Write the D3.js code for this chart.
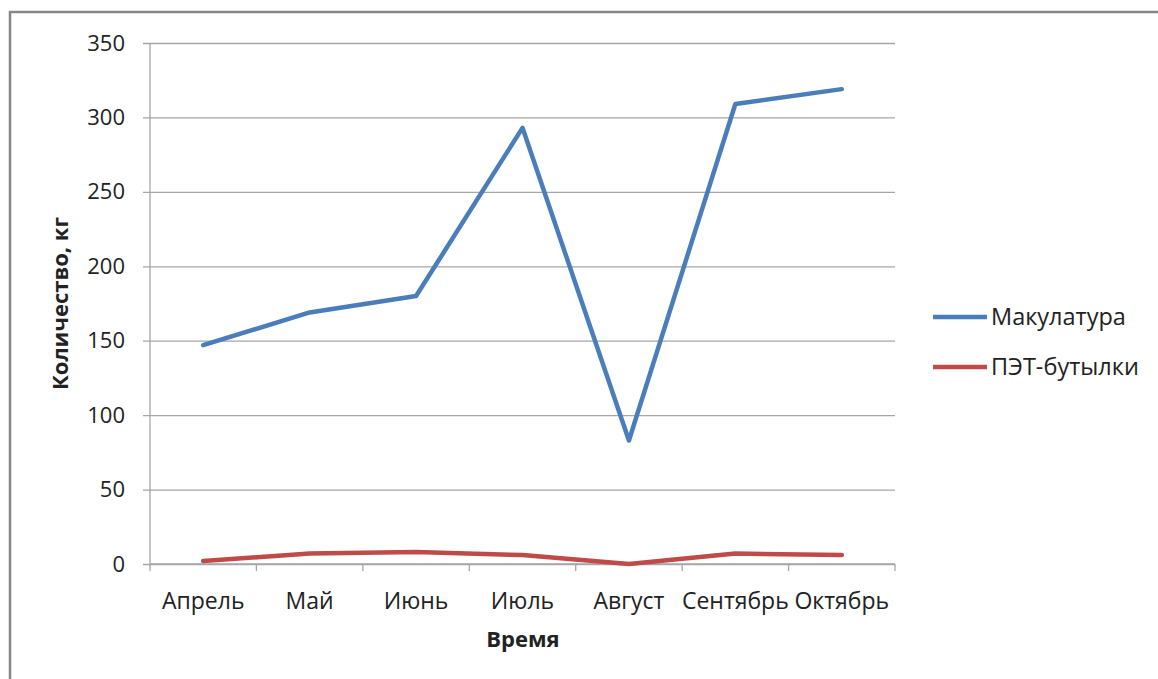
<!DOCTYPE html>
<html>
<head>
<meta charset="utf-8">
<script src="https://cdn.jsdelivr.net/npm/d3@7"></script>
<style>
  html, body { margin: 0; padding: 0; background: #fff; }
  svg { display: block; }
  text { font-family: "Open Sans", "Liberation Sans", sans-serif; fill: #222; }
</style>
</head>
<body>
<svg id="chart" width="1158" height="679"></svg>
<script>
// Monthly collection of recyclables, kg
const months = ["Апрель", "Май", "Июнь", "Июль", "Август", "Сентябрь", "Октябрь"];
const paper = [147, 169, 180, 293, 83, 309, 319];
const bottles = [2, 7, 8, 6, 0, 7, 6];
const yTicks = [0, 50, 100, 150, 200, 250, 300, 350];
const seriesNames = ["Макулатура", "ПЭТ-бутылки"];
const seriesColors = ["#4a7ebb", "#be4b48"];

const svg = d3.select("#chart");

// outer frame of the chart
svg.append("rect")
  .attr("x", 10).attr("y", 12)
  .attr("width", 1200).attr("height", 700)
  .attr("fill", "none")
  .attr("stroke", "#878787")
  .attr("stroke-width", 2.5);

const plotL = 150, plotR = 895, plotT = 43, plotB = 564;

const x = d3.scaleBand().domain(months).range([plotL, plotR]);
const y = d3.scaleLinear().domain([0, 350]).range([plotB, plotT]);

// horizontal gridlines with outside ticks
const yAxis = svg.append("g")
  .attr("transform", `translate(${plotL},0)`)
  .call(d3.axisLeft(y).tickValues(yTicks).tickSize(-(plotR - plotL)).tickSizeOuter(0).tickPadding(25));
yAxis.select(".domain").remove();
yAxis.selectAll(".tick line")
  .attr("x1", -7)
  .attr("stroke", "#a6a6a6").attr("stroke-width", 1.3);
yAxis.selectAll(".tick text")
  .style("font-size", "22px").attr("fill", "#222")
  .attr("font-family", "'Open Sans', sans-serif");

// vertical axis line
svg.append("line")
  .attr("x1", plotL).attr("x2", plotL)
  .attr("y1", plotT).attr("y2", plotB)
  .attr("stroke", "#a6a6a6").attr("stroke-width", 1.3);

// category axis: ticks at band boundaries
const xAxis = svg.append("g").attr("transform", `translate(0,${plotB})`);
xAxis.append("line")
  .attr("x1", plotL).attr("x2", plotR)
  .attr("stroke", "#a6a6a6").attr("stroke-width", 1.3);
const bounds = months.map(m => x(m)).concat([plotR]);
xAxis.selectAll("line.tk").data(bounds).join("line")
  .attr("class", "tk")
  .attr("x1", d => d).attr("x2", d => d)
  .attr("y1", 0).attr("y2", 7)
  .attr("stroke", "#a6a6a6").attr("stroke-width", 1.3);
xAxis.selectAll("text.lbl").data(months).join("text")
  .attr("class", "lbl")
  .attr("x", d => x(d) + x.bandwidth() / 2)
  .attr("y", 45)
  .attr("text-anchor", "middle")
  .style("font-size", "23px")
  .text(d => d);

// axis titles
svg.append("text")
  .attr("transform", `translate(68,${(plotT + plotB) / 2}) rotate(-90)`)
  .attr("text-anchor", "middle")
  .style("font-size", "22px").style("font-weight", "bold")
  .text("Количество, кг");
svg.append("text")
  .attr("x", 523).attr("y", 647)
  .attr("text-anchor", "middle")
  .style("font-size", "22px").style("font-weight", "bold")
  .text("Время");

// series lines
const line = d3.line()
  .x((d, i) => x(months[i]) + x.bandwidth() / 2)
  .y(d => y(d));
[paper, bottles].forEach((vals, k) => {
  svg.append("path")
    .datum(vals)
    .attr("d", line)
    .attr("fill", "none")
    .attr("stroke", seriesColors[k])
    .attr("stroke-width", 4.5)
    .attr("stroke-linejoin", "round")
    .attr("stroke-linecap", "round");
});

// legend
const legend = svg.append("g");
seriesNames.forEach((name, k) => {
  const ly = 317 + k * 50;
  legend.append("line")
    .attr("x1", 933).attr("x2", 987)
    .attr("y1", ly).attr("y2", ly)
    .attr("stroke", seriesColors[k]).attr("stroke-width", 4.5);
  legend.append("text")
    .attr("x", 991).attr("y", ly + 8)
    .style("font-size", "23.5px")
    .text(name);
});
</script>
</body>
</html>
